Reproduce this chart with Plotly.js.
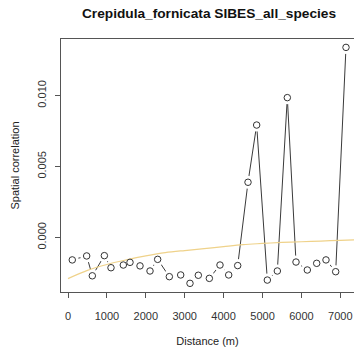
<!DOCTYPE html>
<html>
<head>
<meta charset="utf-8">
<script src="https://cdn.plot.ly/plotly-3.0.1.min.js"></script>
<style>html,body{margin:0;padding:0;background:#fff;}#chart{width:354px;height:356px;}</style>
</head>
<body>
<div id="chart"></div>
<script>
// Observed correlogram (lag distance in m, spatial correlation)
const distance = [110, 480, 625, 935, 1105, 1422, 1594, 1851, 2108, 2305, 2605, 2897, 3136, 3350, 3633, 3907, 4131, 4362, 4627, 4850, 5124, 5381, 5638, 5861, 6152, 6393, 6632, 6881, 7146];
const correlation = [-0.00158, -0.00130, -0.00270, -0.00128, -0.00213, -0.00194, -0.00175, -0.00200, -0.00236, -0.00154, -0.00276, -0.00264, -0.00323, -0.00266, -0.00288, -0.00194, -0.00264, -0.00198, 0.00389, 0.00792, -0.00300, -0.00236, 0.00985, -0.00173, -0.00229, -0.00182, -0.00158, -0.00241, 0.01339];
// Fitted curve
const curveDistance = [0, 500, 1000, 1500, 2000, 2500, 3000, 3500, 4000, 4500, 5000, 5500, 6000, 6500, 7000, 7500];
const curveValue = [-0.00290, -0.00232, -0.00190, -0.00158, -0.00130, -0.00107, -0.00092, -0.00079, -0.00064, -0.00050, -0.00042, -0.00035, -0.00030, -0.00025, -0.00020, -0.00016];
const xTicks = [0, 1000, 2000, 3000, 4000, 5000, 6000, 7000];
const yTicks = [0, 0.005, 0.010];
const yTickText = ["0.000", "0.005", "0.010"];

const font = "Liberation Sans, Arial, sans-serif";
const traces = [
  {x: distance, y: correlation, mode: "lines", line: {color: "#3a3a3a", width: 1}, hoverinfo: "skip"},
  {x: distance, y: correlation, mode: "markers", marker: {color: "#fff", size: 13, line: {width: 0}}, hoverinfo: "skip"},
  {x: curveDistance, y: curveValue, mode: "lines", line: {color: "#efd28a", width: 1.2, shape: "spline"}, hoverinfo: "skip"},
  {x: distance, y: correlation, mode: "markers", marker: {symbol: "circle", color: "#fff", size: 6.5, line: {color: "#333", width: 1}}}
];
const layout = {
  width: 354, height: 356,
  margin: {l: 61, r: 0, t: 39, b: 64, pad: 0},
  paper_bgcolor: "#fff", plot_bgcolor: "#fff",
  showlegend: false,
  font: {family: font, size: 11, color: "#333"},
  title: {text: "<b>Crepidula_fornicata SIBES_all_species</b>", font: {family: font, size: 13.7, color: "#111"}, x: 209/354, xanchor: "center", y: 1 - 13/356, yanchor: "middle"},
  xaxis: {
    range: [-180, 7352], tickvals: xTicks, ticktext: xTicks.map(String),
    ticks: "outside", ticklen: 5, tickcolor: "#555", tickwidth: 1,
    showline: true, mirror: true, linecolor: "#555", linewidth: 1,
    showgrid: false, zeroline: false,
    tickfont: {family: font, size: 11, color: "#333"},
    ticklabelstandoff: 9,
    title: {text: "Distance (m)", font: {family: font, size: 11, color: "#222"}, standoff: 16}
  },
  yaxis: {
    range: [-0.00384, 0.01398], tickvals: yTicks, ticktext: yTickText, tickangle: -90,
    ticks: "outside", ticklen: 5, tickcolor: "#555", tickwidth: 1,
    showline: true, mirror: false, linecolor: "#555", linewidth: 1,
    showgrid: false, zeroline: false,
    tickfont: {family: font, size: 11, color: "#333"},
    ticklabelstandoff: 5,
    title: {text: "Spatial correlation", font: {family: font, size: 11, color: "#222"}, standoff: 13}
  }
};
Plotly.newPlot("chart", traces, layout, {staticPlot: true, displayModeBar: false});
</script>
</body>
</html>
